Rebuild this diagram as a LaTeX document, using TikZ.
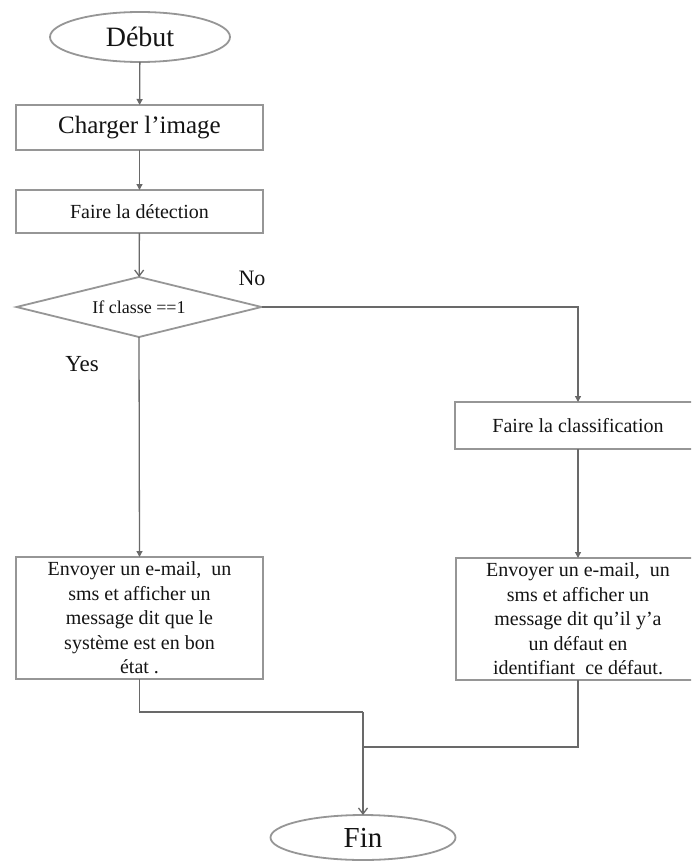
\documentclass[tikz,border=0pt]{standalone}
\usepackage{fontspec}
\setmainfont{Liberation Serif}
\usepackage{xcolor}
\usetikzlibrary{arrows.meta,positioning,shapes.geometric}
\definecolor{boxgrey}{RGB}{150,150,150}
\definecolor{linegrey}{RGB}{105,105,105}
\definecolor{inkgrey}{RGB}{20,20,20}
\newcommand{\fs}[1]{\fontsize{#1}{#1}\selectfont}
\tikzset{
  startstop/.style={ellipse,draw=boxgrey,line width=1.8pt,fill=white,
    inner sep=0pt,outer sep=0pt,minimum width=180pt,minimum height=50pt,
    text=inkgrey},
  process/.style={rectangle,draw=boxgrey,line width=1.8pt,fill=white,
    align=center,inner sep=0pt,outer sep=0pt,minimum width=247pt,text=inkgrey},
  longtext/.style={process,minimum height=122pt,
    font=\fontsize{20}{24.5}\selectfont},
  decision/.style={diamond,draw=boxgrey,line width=1.8pt,fill=white,
    inner sep=0pt,outer sep=0pt,minimum width=245pt,minimum height=60pt,
    aspect=4,text=inkgrey},
  flow/.style={-{Triangle[length=6pt,width=6pt]},line width=1.3pt,draw=linegrey},
  flowopen/.style={-{Straight Barb[length=6pt,width=9pt]},line width=1.3pt,
    draw=linegrey},
  joinline/.style={line width=1.3pt,draw=linegrey},
  edgelabel/.style={text=inkgrey,inner sep=0pt}
}

\begin{document}
\begin{tikzpicture}[x=1pt,y=-1pt]
  \useasboundingbox (0,0) rectangle (691,861);
  \clip (0,0) rectangle (691,861);
  % main column
  \node[startstop,font=\fs{28}] (debut) at (140,37) {Début};
  \node[process,minimum height=45pt,font=\fs{25},below=43pt of debut,
    xshift=-0.5pt] (charger) {Charger l’image};
  \node[process,minimum height=43pt,font=\fs{20},below=40pt of charger]
    (detect) {Faire la détection};
  \node[decision,font=\fs{18},below=44pt of detect,xshift=-0.5pt]
    (test) {If classe ==1};
  \node[longtext,below=220pt of test,xshift=0.5pt] (yesbox)
    {Envoyer un e-mail,\ \ un\\sms et afficher un\\message dit que le\\
     système est en bon\\état .};
  % right branch
  \node[process,minimum width=246pt,minimum height=47pt,font=\fs{20}]
    (classif) at (578,425.5) {Faire la classification};
  \node[longtext,minimum width=244pt,below=109pt of classif] (nobox)
    {Envoyer un e-mail,\ \ un\\sms et afficher un\\message dit qu’il y’a\\
     un défaut en\\identifiant\ \ ce défaut.};
  \node[startstop,minimum width=185pt,minimum height=45pt,font=\fs{29}]
    (fin) at (363,837.5) {Fin};
  \coordinate (mergea) at (363,712);
  \coordinate (mergeb) at (363,747);
  % labels
  \node[edgelabel,font=\fs{22}] (nolabel) at (252,278) {No};
  \node[edgelabel,font=\fs{23}] (yeslabel) at (82,364) {Yes};
  % connectors
  \draw[flow] (debut) -- (charger);
  \draw[flow] (charger) -- (detect);
  \draw[flowopen] (detect) -- (test);
  \draw[flow] (test.east) -| (classif.north);
  \draw[flow] (test.south) -- (yesbox.north);
  \draw[flow] (classif.south) -- (nobox.north);
  \draw[joinline] (yesbox.south) |- (mergea);
  \draw[flowopen] (mergea) -- (fin.north);
  \draw[joinline] (nobox.south) |- (mergeb);
\end{tikzpicture}
\end{document}
